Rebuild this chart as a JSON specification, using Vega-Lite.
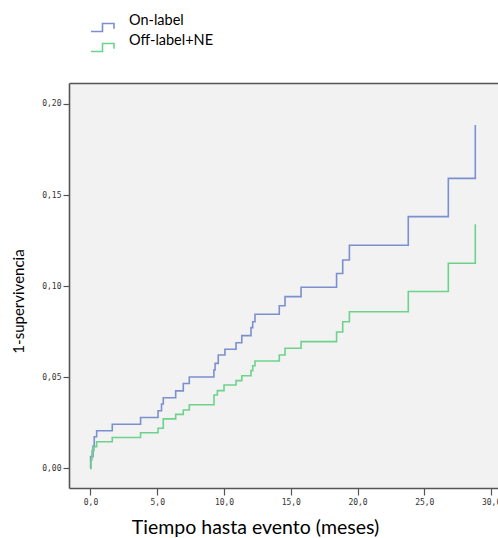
{
  "$schema": "https://vega.github.io/schema/vega-lite/v6.json",
  "width": 429,
  "height": 405,
  "autosize": {"type": "none"},
  "padding": {"left": 69, "top": 83, "right": 0, "bottom": 50},
  "background": "white",
  "config": {
    "view": {"fill": "#f2f2f2", "stroke": null},
    "font": "Lato"
  },
  "data": {
    "values": [
      {"grupo": "On-label", "t": 0, "v": 0},
      {"grupo": "On-label", "t": 0.01, "v": 0.0065},
      {"grupo": "On-label", "t": 0.19, "v": 0.0123},
      {"grupo": "On-label", "t": 0.28, "v": 0.0174},
      {"grupo": "On-label", "t": 0.46, "v": 0.0207},
      {"grupo": "On-label", "t": 1.63, "v": 0.0243},
      {"grupo": "On-label", "t": 3.75, "v": 0.028},
      {"grupo": "On-label", "t": 5.06, "v": 0.0317},
      {"grupo": "On-label", "t": 5.32, "v": 0.0354},
      {"grupo": "On-label", "t": 5.45, "v": 0.0388},
      {"grupo": "On-label", "t": 6.38, "v": 0.0426},
      {"grupo": "On-label", "t": 6.95, "v": 0.0466},
      {"grupo": "On-label", "t": 7.4, "v": 0.0502},
      {"grupo": "On-label", "t": 9.24, "v": 0.054},
      {"grupo": "On-label", "t": 9.33, "v": 0.0577},
      {"grupo": "On-label", "t": 9.57, "v": 0.0623},
      {"grupo": "On-label", "t": 10.07, "v": 0.0654},
      {"grupo": "On-label", "t": 10.9, "v": 0.069},
      {"grupo": "On-label", "t": 11.33, "v": 0.0729},
      {"grupo": "On-label", "t": 12.02, "v": 0.0773},
      {"grupo": "On-label", "t": 12.15, "v": 0.0805},
      {"grupo": "On-label", "t": 12.32, "v": 0.0846},
      {"grupo": "On-label", "t": 14.14, "v": 0.0893},
      {"grupo": "On-label", "t": 14.57, "v": 0.0943},
      {"grupo": "On-label", "t": 15.77, "v": 0.0994},
      {"grupo": "On-label", "t": 18.43, "v": 0.107},
      {"grupo": "On-label", "t": 18.89, "v": 0.1144},
      {"grupo": "On-label", "t": 19.39, "v": 0.1225},
      {"grupo": "On-label", "t": 23.8, "v": 0.1382},
      {"grupo": "On-label", "t": 26.8, "v": 0.1592},
      {"grupo": "On-label", "t": 28.82, "v": 0.1885},
      {"grupo": "Off-label+NE", "t": 0, "v": 0},
      {"grupo": "Off-label+NE", "t": 0.04, "v": 0.0047},
      {"grupo": "Off-label+NE", "t": 0.11, "v": 0.0098},
      {"grupo": "Off-label+NE", "t": 0.26, "v": 0.012},
      {"grupo": "Off-label+NE", "t": 0.46, "v": 0.0147},
      {"grupo": "Off-label+NE", "t": 1.63, "v": 0.017},
      {"grupo": "Off-label+NE", "t": 3.75, "v": 0.0196},
      {"grupo": "Off-label+NE", "t": 5.06, "v": 0.0221},
      {"grupo": "Off-label+NE", "t": 5.45, "v": 0.0272},
      {"grupo": "Off-label+NE", "t": 6.38, "v": 0.0297},
      {"grupo": "Off-label+NE", "t": 6.95, "v": 0.0321},
      {"grupo": "Off-label+NE", "t": 7.4, "v": 0.035},
      {"grupo": "Off-label+NE", "t": 9.25, "v": 0.0403},
      {"grupo": "Off-label+NE", "t": 9.5, "v": 0.0427},
      {"grupo": "Off-label+NE", "t": 10.0, "v": 0.0458},
      {"grupo": "Off-label+NE", "t": 10.9, "v": 0.0482},
      {"grupo": "Off-label+NE", "t": 11.33, "v": 0.0509},
      {"grupo": "Off-label+NE", "t": 12.02, "v": 0.0537},
      {"grupo": "Off-label+NE", "t": 12.15, "v": 0.0564},
      {"grupo": "Off-label+NE", "t": 12.32, "v": 0.059},
      {"grupo": "Off-label+NE", "t": 14.14, "v": 0.0623},
      {"grupo": "Off-label+NE", "t": 14.57, "v": 0.066},
      {"grupo": "Off-label+NE", "t": 15.77, "v": 0.0696},
      {"grupo": "Off-label+NE", "t": 18.43, "v": 0.0749},
      {"grupo": "Off-label+NE", "t": 18.89, "v": 0.0805},
      {"grupo": "Off-label+NE", "t": 19.39, "v": 0.086},
      {"grupo": "Off-label+NE", "t": 23.8, "v": 0.0971},
      {"grupo": "Off-label+NE", "t": 26.8, "v": 0.1126},
      {"grupo": "Off-label+NE", "t": 28.82, "v": 0.134}
    ]
  },
  "layer": [
    {
      "mark": {"type": "line", "interpolate": "step-after", "strokeWidth": 1.6},
      "encoding": {
        "x": {
          "field": "t", "type": "quantitative",
          "scale": {"domain": [-1.61, 30.52], "nice": false, "zero": false},
          "axis": {
            "orient": "bottom",
            "values": [0, 5, 10, 15, 20, 25, 30],
            "labelExpr": "replace(format(datum.value, '.1f'), '.', ',')",
            "labelFont": "DejaVu Sans Mono", "labelFontSize": 8, "labelColor": "#333",
            "labelPadding": 3, "labelFlush": false, "labelOverlap": false,
            "tickSize": 7, "tickColor": "#555", "tickWidth": 1.2,
            "domainColor": "#555", "domainWidth": 1.6,
            "grid": false,
            "title": "Tiempo hasta evento (meses)",
            "titleFont": "Lato", "titleFontSize": 19.5, "titleFontWeight": "normal", "titleColor": "#000",
            "titleX": 186, "titleY": 45, "titleAlign": "center", "titleBaseline": "alphabetic"
          }
        },
        "y": {
          "field": "v", "type": "quantitative",
          "scale": {"domain": [-0.0107, 0.2115], "nice": false, "zero": false},
          "axis": {
            "values": [0, 0.05, 0.1, 0.15, 0.2],
            "labelExpr": "replace(format(datum.value, '.2f'), '.', ',')",
            "labelFont": "DejaVu Sans Mono", "labelFontSize": 8, "labelColor": "#333",
            "labelPadding": 2, "labelFlush": false, "labelOverlap": false,
            "tickSize": 6, "tickColor": "#555", "tickWidth": 1.2,
            "domainColor": "#555", "domainWidth": 1.6,
            "grid": false,
            "title": "1-supervivencia",
            "titleFont": "Lato", "titleFontSize": 15, "titleFontWeight": "normal", "titleColor": "#000",
            "titleX": -51, "titleY": 218, "titleAngle": 270, "titleAlign": "center", "titleBaseline": "middle"
          }
        },
        "color": {
          "field": "grupo", "type": "nominal",
          "scale": {"domain": ["On-label", "Off-label+NE"], "range": ["#7b90cf", "#6dd38c"]},
          "legend": {
            "orient": "none", "legendX": 21, "legendY": -68,
            "title": null, "padding": 0,
            "symbolType": "M-1,0.35H0V-0.35H1V0.1",
            "symbolSize": 529, "symbolStrokeWidth": 1.6, "symbolFillColor": "transparent",
            "labelFont": "Lato", "labelFontSize": 14.5, "labelColor": "#000",
            "labelOffset": 14, "labelBaseline": "bottom", "rowPadding": -3
          }
        }
      }
    },
    {
      "mark": {"type": "line", "interpolate": "step-after", "strokeOpacity": 0},
      "encoding": {
        "x": {
          "field": "t", "type": "quantitative",
          "scale": {"domain": [-1.61, 30.52], "nice": false, "zero": false},
          "axis": {
            "orient": "top", "labels": false, "ticks": false, "grid": false,
            "domainColor": "#555", "domainWidth": 1.6, "title": null
          }
        },
        "y": {"field": "v", "type": "quantitative"},
        "detail": {"field": "grupo", "type": "nominal"}
      }
    }
  ],
  "resolve": {"axis": {"x": "independent"}}
}
